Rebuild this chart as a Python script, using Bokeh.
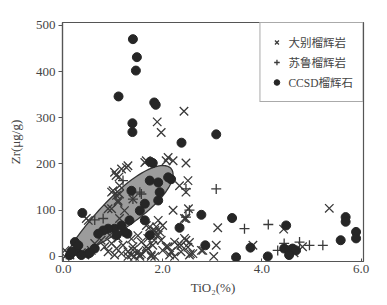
import numpy as np
from bokeh.plotting import figure
from bokeh.models import Range1d, FixedTicker, Legend, LegendItem
from bokeh.embed import file_html
from bokeh.resources import INLINE

# ---- data ----
dabie_x = [1.89, 1.97, 2.43, 2.47, 2.11, 2.21, 2.07, 1.67, 1.30, 1.64,
           5.36, 3.11, 3.08, 3.03, 2.81, 3.82, 4.44, 4.65, 4.82,
           2.51, 2.47, 2.34, 2.52, 2.21, 2.47, 2.44, 2.47, 2.56, 2.78, 2.54,
           2.44, 2.31, 2.11, 2.14, 2.54, 2.00, 1.87, 1.94, 1.80, 1.83, 1.77,
           1.54, 1.37, 1.67, 1.40,
           1.03, 1.17, 1.27, 1.06, 1.12, 1.13, 0.97, 1.00, 1.10, 1.13, 1.23,
           0.90, 0.46, 0.50,
           0.83, 0.97, 1.07, 1.20, 1.30, 1.40, 1.50, 1.57, 1.67, 1.70, 1.84,
           1.91, 1.97, 1.77, 1.54, 2.07, 2.17, 1.80, 0.93, 0.76, 0.63, 0.56,
           0.43, 0.03, 0.09, 0.03, 0.19, 0.13, 0.36, 0.30,
           0.97, 1.10, 1.07, 1.13, 1.40, 1.67, 1.74, 1.84, 2.00, 2.24, 2.37,
           1.43, 1.57, 1.70, 1.84, 1.17, 1.30, 1.03, 0.90, 1.10, 1.37, 1.50,
           2.61, 2.51, 2.37, 2.24, 1.91]
dabie_y = [291, 268, 314, 202, 214, 207, 207, 207, 196, 203,
           104, 62, 24, 0, 13, 24, 59, 8, 21,
           164, 139, 153, 103, 100, 82, 82, 35, 6, 13, 30,
           39, 24, 21, 3, 3, 13, 64, 53, 46, 35, 3,
           3, 3, 13, 14,
           182, 189, 192, 175, 172, 153, 139, 142, 121, 135, 99,
           103, 82, 78,
           21, 28, 17, 24, 10, 21, 10, 31, 21, 39, 56,
           46, 35, 0, 0, 21, 10, 24, 46, 35, 28, 13,
           3, 13, 6, 0, 10, 3, 8, 17,
           103, 117, 132, 82, 124, 67, 64, 49, 67, 31, 24,
           0, 6, 17, 0, 6, 0, 3, 10, 40, 38, 45,
           6, 20, 10, 0, 78]

sulu_x = [3.08, 3.65, 4.13, 4.32, 4.76, 4.96, 5.23, 2.47, 2.54, 0.63,
          0.80, 1.57, 1.40, 1.20, 1.54, 2.47, 4.45, 0.20, 0.55]
sulu_y = [146, 60, 69, 13, 31, 24, 24, 146, 100, 79,
          82, 135, 124, 164, 139, 85, 28, 5, 10]

ccsd_x = [1.40, 1.48, 1.46, 1.11, 1.83, 1.86, 1.39, 1.39, 2.38, 3.08,
          1.80, 1.75, 2.17, 0.38, 2.78, 3.40, 2.34, 1.74, 1.29,
          1.74, 1.91, 2.11, 1.94, 1.91, 1.64, 1.54, 1.37, 1.33, 1.64,
          1.03, 0.90, 0.80, 0.70, 1.23, 1.17, 1.07,
          0.26, 0.23, 0.13, 0.36, 0.50, 0.63, 0.30, 0.53, 0.16,
          2.86, 3.77, 3.48, 4.12, 4.49, 4.45, 4.55, 4.62, 4.69, 4.55,
          5.69, 5.69, 5.90, 5.90, 5.59]
ccsd_y = [470, 431, 402, 346, 333, 328, 288, 269, 246, 264,
          202, 205, 167, 94, 90, 83, 62, 46, 49,
          164, 160, 171, 139, 121, 114, 99, 142, 78, 78,
          60, 60, 56, 49, 53, 67, 46,
          13, 31, 3, 3, 6, 17, 24, 8, 10,
          24, 19, -2, 0, 67, 17, 13, 17, 13, 3,
          85, 75, 53, 39, 35]

labels = ["大别榴辉岩", "苏鲁榴辉岩", "CCSD榴辉石"]
x_ticks = [0, 2, 4, 6]
x_tick_labels = {0: "0.0", 2: "2.0", 4: "4.0", 6: "6.0"}
y_ticks = [0, 100, 200, 300, 400, 500]

# field (grey egg-shaped envelope), defined by its two end points in data
field_lo = (0.10, 2.0)
field_hi = (2.17, 190.0)
field_half_width_px = 16.5
field_egg = 0.35

# ---- figure ----
W, H = 379, 297
BL, BR, BT, BB = 62, 16, 22, 34
x0, x1 = -0.02, 6.05
y0, y1 = -11, 506

serif = "'Liberation Serif', 'Noto Sans CJK SC', serif"
txt = "#444444"

p = figure(width=W, height=H, output_backend="svg", toolbar_location=None,
           x_range=Range1d(x0, x1), y_range=Range1d(y0, y1),
           min_border_left=BL, min_border_right=BR,
           min_border_top=BT, min_border_bottom=BB)
p.grid.visible = False
p.outline_line_color = "#555555"
p.outline_line_width = 1.2
p.background_fill_color = "white"
p.border_fill_color = "white"

for ax in (p.xaxis[0], p.yaxis[0]):
    ax.axis_line_color = "#555555"
    ax.axis_line_width = 1.2
    ax.major_tick_line_color = "#555555"
    ax.minor_tick_line_color = None
    ax.major_label_text_font = serif
    ax.major_label_text_font_size = "13px"
    ax.major_label_text_color = txt
    ax.axis_label_text_font = serif
    ax.axis_label_text_font_size = "13px"
    ax.axis_label_text_font_style = "normal"
    ax.axis_label_text_color = txt

p.xaxis.ticker = FixedTicker(ticks=x_ticks)
p.xaxis.major_label_overrides = x_tick_labels
p.xaxis.major_tick_in = 3
p.xaxis.major_tick_out = 0
p.xaxis.axis_label = "TiO₂(%)"
p.xaxis.axis_label_standoff = 4
p.xaxis.major_label_standoff = 3

p.yaxis.ticker = FixedTicker(ticks=y_ticks)
p.yaxis.major_tick_in = 0
p.yaxis.major_tick_out = 4
p.yaxis.axis_label = "Zr(μg/g)"
p.yaxis.axis_label_standoff = 10
p.yaxis.major_label_standoff = 3

# field polygon computed in screen space then mapped to data
fw = W - BL - BR
fh = H - BT - BB
sx = fw / (x1 - x0)
sy = fh / (y1 - y0)
lx, ly = field_lo[0] * sx, field_lo[1] * sy
hx, hy = field_hi[0] * sx, field_hi[1] * sy
cx, cy = (lx + hx) / 2, (ly + hy) / 2
a = np.hypot(hx - lx, hy - ly) / 2
th = np.arctan2(hy - ly, hx - lx)
t = np.linspace(0, 2 * np.pi, 120)
u = a * np.cos(t)
v = field_half_width_px * np.sin(t) * (1 + field_egg * np.cos(t))
px = cx + u * np.cos(th) - v * np.sin(th)
py = cy + u * np.sin(th) + v * np.cos(th)
p.patch(px / sx, py / sy, fill_color="#9c9c9c", line_color="#333333", line_width=1.3)

r1 = p.scatter(dabie_x, dabie_y, marker="x", size=12, line_color="#3a3a3a", line_width=1.3)
r2 = p.scatter(sulu_x, sulu_y, marker="cross", size=10, line_color="#3a3a3a", line_width=1.3)
r3 = p.scatter(ccsd_x, ccsd_y, marker="circle", size=9, fill_color="#262626", line_color="#262626")

legend = Legend(items=[LegendItem(label=labels[0], renderers=[r1]),
                       LegendItem(label=labels[1], renderers=[r2]),
                       LegendItem(label=labels[2], renderers=[r3])],
                location="top_right", margin=0, padding=9, spacing=0,
                label_text_font=serif, label_text_font_size="11.5px",
                label_text_color=txt, label_height=20, glyph_height=20,
                glyph_width=14, label_standoff=5,
                border_line_color="#555555", border_line_width=1.2,
                background_fill_alpha=1.0)
p.add_layout(legend)

open("out.html", "w").write(file_html(p, INLINE))
